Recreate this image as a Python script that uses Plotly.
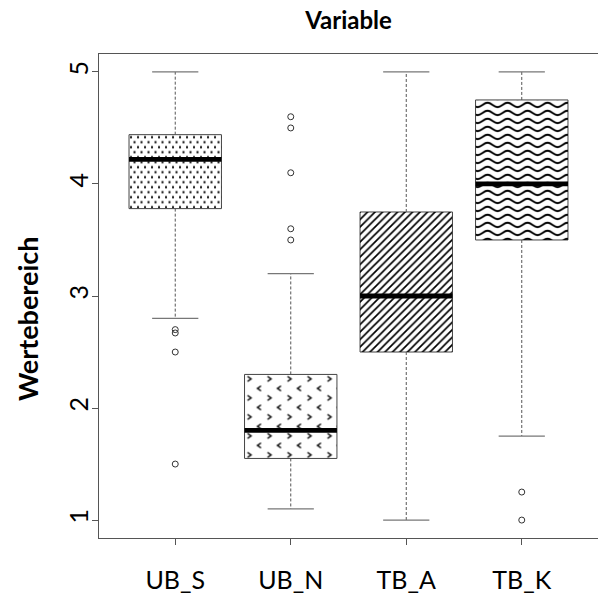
import base64
import plotly.graph_objects as go

# ---------------- data ----------------
categories = ["UB_S", "UB_N", "TB_A", "TB_K"]
q1 = [3.78, 1.55, 2.50, 3.50]
medians = [4.22, 1.80, 3.00, 4.00]
q3 = [4.44, 2.30, 3.75, 4.75]
whisker_low = [2.80, 1.10, 1.00, 1.75]
whisker_high = [5.00, 3.20, 5.00, 5.00]
out_ub_s = [2.70, 2.67, 2.50, 1.50]
out_ub_n = [4.60, 4.50, 4.10, 3.60, 3.50]
out_tb_a = []
out_tb_k = [1.25, 1.00]
outlier_lists = [out_ub_s, out_ub_n, out_tb_a, out_tb_k]
pattern_kinds = ["dots", "chevrons", "diagonal", "waves"]
y_ticks = [1, 2, 3, 4, 5]

# ---------------- layout constants ----------------
W, H = 598, 597
ML, MR, MT, MB = 99, 0, 54, 59
XR = [0.34, 4.66]
YR = [0.84, 5.16]
BOX_W = 0.8
CAP_W = 0.4
px_x = (W - ML - MR) / (XR[1] - XR[0])
px_y = (H - MT - MB) / (YR[1] - YR[0])

FONT = "Lato"
FRAME = "#555555"
WHISK = "#555555"


def pattern_uri(kind, w, h):
    if kind == "dots":
        pat = ('<pattern id="p" patternUnits="userSpaceOnUse" width="7" height="10">'
               '<rect x="1" y="1.5" width="2" height="2" fill="#000"/>'
               '<rect x="4.5" y="6.5" width="2" height="2" fill="#000"/></pattern>')
    elif kind == "chevrons":
        pat = ('<pattern id="p" patternUnits="userSpaceOnUse" width="20" height="19" x="1" y="0">'
               '<polyline points="2,2 5.5,4.5 2,7" fill="none" stroke="#000" stroke-width="1.5"/>'
               '<polyline points="15.5,11.5 12,14 15.5,16.5" fill="none" stroke="#000" '
               'stroke-width="1.5"/>'
               '</pattern>')
    elif kind == "diagonal":
        pat = ('<pattern id="p" patternUnits="userSpaceOnUse" width="7.5" height="7.5">'
               '<path d="M0,7.5 L7.5,0 M-1,1 L1,-1 M6.5,8.5 L8.5,6.5" stroke="#000" '
               'stroke-width="1.7"/></pattern>')
    else:
        pat = ('<pattern id="p" patternUnits="userSpaceOnUse" width="20" height="8" x="2" y="1">'
               '<path d="M0,6.2 C4,6.2 6,1.8 10,1.8 C14,1.8 16,6.2 20,6.2" fill="none" '
               'stroke="#000" stroke-width="1.9"/></pattern>')
    svg = (f'<svg xmlns="http://www.w3.org/2000/svg" width="{w:.2f}" height="{h:.2f}" '
           f'viewBox="0 0 {w:.2f} {h:.2f}" preserveAspectRatio="none"><defs>{pat}</defs>'
           f'<rect x="0" y="0" width="{w:.2f}" height="{h:.2f}" fill="url(#p)"/></svg>')
    return "data:image/svg+xml;base64," + base64.b64encode(svg.encode()).decode()


xpos = list(range(1, len(categories) + 1))
fig = go.Figure()

# boxes
fig.add_trace(go.Bar(
    x=xpos, y=[b - a for a, b in zip(q1, q3)], base=q1, width=BOX_W,
    marker=dict(color="white", line=dict(color="#444444", width=1)),
    showlegend=False, hoverinfo="skip"))

images = []
for i, x in enumerate(xpos):
    # whiskers (dashed)
    fig.add_trace(go.Scatter(x=[x, x], y=[q3[i], whisker_high[i]], mode="lines",
                             line=dict(color=WHISK, width=1, dash="3px,2px"),
                             showlegend=False, hoverinfo="skip"))
    fig.add_trace(go.Scatter(x=[x, x], y=[q1[i], whisker_low[i]], mode="lines",
                             line=dict(color=WHISK, width=1, dash="3px,2px"),
                             showlegend=False, hoverinfo="skip"))
    # caps
    for v in (whisker_low[i], whisker_high[i]):
        fig.add_trace(go.Scatter(x=[x - CAP_W / 2, x + CAP_W / 2], y=[v, v], mode="lines",
                                 line=dict(color="#777777", width=1.3),
                                 showlegend=False, hoverinfo="skip"))
    # medians
    fig.add_trace(go.Scatter(x=[x - BOX_W / 2, x + BOX_W / 2], y=[medians[i], medians[i]],
                             mode="lines", line=dict(color="black", width=4.8),
                             showlegend=False, hoverinfo="skip"))
    # outliers
    if outlier_lists[i]:
        fig.add_trace(go.Scatter(x=[x] * len(outlier_lists[i]), y=outlier_lists[i],
                                 mode="markers",
                                 marker=dict(symbol="circle-open", size=6,
                                             color="#333333", line=dict(width=1)),
                                 showlegend=False, hoverinfo="skip"))
    # fill pattern
    wpx = BOX_W * px_x
    hpx = (q3[i] - q1[i]) * px_y
    images.append(dict(source=pattern_uri(pattern_kinds[i], wpx, hpx),
                       xref="x", yref="y", x=x - BOX_W / 2, y=q3[i],
                       sizex=BOX_W, sizey=q3[i] - q1[i], sizing="stretch",
                       xanchor="left", yanchor="top", layer="above"))

fig.update_layout(
    width=W, height=H,
    margin=dict(l=ML, r=MR, t=MT, b=MB, autoexpand=False),
    paper_bgcolor="white", plot_bgcolor="white",
    images=images,
    title=dict(text="Variable", x=0.5, xref="paper", xanchor="center",
               y=1 - 21 / H, yref="container", yanchor="middle",
               font=dict(family=FONT, size=24, color="black", weight="bold")),
    xaxis=dict(range=XR, tickvals=xpos, ticktext=categories, showgrid=False,
               zeroline=False, showline=True, mirror=True, linecolor=FRAME, linewidth=1,
               ticks="outside", ticklen=6, tickcolor=FRAME, ticklabelstandoff=14,
               tickfont=dict(family=FONT, size=25, color="black")),
    yaxis=dict(range=YR, tickvals=y_ticks, showgrid=False, zeroline=False,
               showline=True, mirror=True, linecolor=FRAME, linewidth=1,
               ticks="outside", ticklen=6, tickcolor=FRAME, tickangle=-90,
               ticklabelstandoff=-6,
               tickfont=dict(family=FONT, size=25, color="black")),
    annotations=[dict(text="Wertebereich", xref="paper", yref="paper",
                      x=(27 - ML) / (W - ML - MR), y=(H - MB - 319) / (H - MT - MB),
                      xanchor="center", yanchor="middle", textangle=-90, showarrow=False,
                      font=dict(family=FONT, size=27, color="black", weight="bold"))],
)

fig.write_html("out.html", config={"displayModeBar": False},
               post_script="document.body.style.margin='0px';document.body.style.overflow='hidden';")
